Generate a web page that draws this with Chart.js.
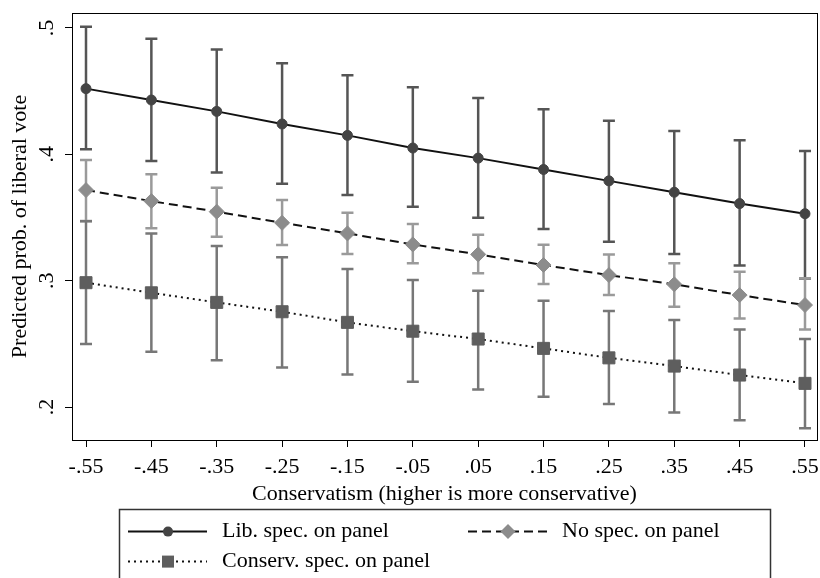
<!DOCTYPE html>
<html>
<head>
<meta charset="utf-8">
<style>
  html, body { margin: 0; padding: 0; background: #fff; }
  #wrap { width: 820px; height: 578px; position: relative; }
  canvas { display: block; }
</style>
<script src="https://cdn.jsdelivr.net/npm/chart.js@4/dist/chart.umd.min.js"></script>
</head>
<body>
<div id="wrap"><canvas id="c" width="820" height="578"></canvas></div>
<script>
// ---- Data ----
const xValues = [-0.55, -0.45, -0.35, -0.25, -0.15, -0.05, 0.05, 0.15, 0.25, 0.35, 0.45, 0.55];
const xTickLabels = ["-.55", "-.45", "-.35", "-.25", "-.15", "-.05", ".05", ".15", ".25", ".35", ".45", ".55"];
const yTickValues = [0.2, 0.3, 0.4, 0.5];
const yTickLabels = [".2", ".3", ".4", ".5"];

const seriesLabels = ["Lib. spec. on panel", "No spec. on panel", "Conserv. spec. on panel"];

const libMean  = [0.452, 0.443, 0.434, 0.424, 0.415, 0.405, 0.397, 0.388, 0.379, 0.370, 0.361, 0.353];
const libUpper = [0.501, 0.4915, 0.483, 0.472, 0.4625, 0.453, 0.4445, 0.4356, 0.4266, 0.4184, 0.4111, 0.4026];
const libLower = [0.404, 0.3947, 0.3857, 0.3767, 0.3678, 0.3585, 0.3498, 0.3409, 0.3308, 0.3211, 0.3121, 0.3018];

const noMean  = [0.3717, 0.363, 0.3546, 0.3458, 0.3374, 0.3287, 0.3208, 0.3124, 0.3044, 0.2971, 0.2886, 0.2807];
const noUpper = [0.3955, 0.3842, 0.3736, 0.3638, 0.3538, 0.3448, 0.3364, 0.3284, 0.3208, 0.3137, 0.3071, 0.302];
const noLower = [0.3472, 0.3414, 0.3348, 0.3282, 0.3211, 0.3137, 0.3058, 0.2973, 0.2886, 0.2793, 0.2701, 0.2614];

const conMean  = [0.2984, 0.2904, 0.2828, 0.2754, 0.267, 0.26, 0.2538, 0.2464, 0.2389, 0.2324, 0.2253, 0.2187];
const conUpper = [0.347, 0.3374, 0.3274, 0.3185, 0.3092, 0.3005, 0.292, 0.2841, 0.2759, 0.2688, 0.2614, 0.2538];
const conLower = [0.2498, 0.2437, 0.2371, 0.2313, 0.2258, 0.22, 0.2139, 0.2081, 0.2023, 0.1957, 0.1896, 0.1831];

const xTitle = "Conservatism (higher is more conservative)";
const yTitle = "Predicted prob. of liberal vote";

// ---- Styling ----
const FONT = '"Liberation Serif", "Times New Roman", serif';
const FS = 22;

const toPts = (m) => xValues.map((x, i) => ({ x: x, y: m[i] }));

const errorSets = [
  { lo: libLower, hi: libUpper, color: '#555555' },
  { lo: noLower,  hi: noUpper,  color: '#9a9a9a' },
  { lo: conLower, hi: conUpper, color: '#777777' }
];

const errorBarPlugin = {
  id: 'errbars',
  beforeDatasetsDraw(chart) {
    const { ctx, scales: { x, y } } = chart;
    ctx.save();
    ctx.lineWidth = 2.5;
    errorSets.forEach(s => {
      ctx.strokeStyle = s.color;
      xValues.forEach((xv, i) => {
        const px = x.getPixelForValue(xv);
        const p1 = y.getPixelForValue(s.lo[i]);
        const p2 = y.getPixelForValue(s.hi[i]);
        ctx.beginPath();
        ctx.moveTo(px, p1); ctx.lineTo(px, p2);
        ctx.moveTo(px - 6, p1); ctx.lineTo(px + 6, p1);
        ctx.moveTo(px - 6, p2); ctx.lineTo(px + 6, p2);
        ctx.stroke();
      });
    });
    ctx.restore();
  }
};

function drawMarker(ctx, style, cx, cy, r, color) {
  ctx.fillStyle = color;
  ctx.beginPath();
  if (style === 'circle') {
    ctx.arc(cx, cy, r, 0, Math.PI * 2);
  } else if (style === 'rectRot') {
    ctx.moveTo(cx, cy - r); ctx.lineTo(cx + r, cy); ctx.lineTo(cx, cy + r); ctx.lineTo(cx - r, cy); ctx.closePath();
  } else {
    const h = Math.SQRT1_2 * r;
    ctx.rect(cx - h, cy - h, 2 * h, 2 * h);
  }
  ctx.fill();
}

const framePlugin = {
  id: 'frame',
  afterDraw(chart) {
    const { ctx, chartArea: a, scales: { y } } = chart;
    ctx.save();
    // plot box
    ctx.strokeStyle = '#000';
    ctx.lineWidth = 1;
    ctx.strokeRect(Math.round(a.left) + 0.5, Math.round(a.top) + 0.5,
                   Math.round(a.right - a.left), Math.round(a.bottom - a.top));
    // rotated y tick labels
    ctx.fillStyle = '#000';
    ctx.font = FS + 'px ' + FONT;
    ctx.textAlign = 'center';
    ctx.textBaseline = 'alphabetic';
    yTickValues.forEach((v, i) => {
      const py = y.getPixelForValue(v);
      ctx.save();
      ctx.translate(a.left - 19, py);
      ctx.rotate(-Math.PI / 2);
      ctx.fillText(yTickLabels[i], 0, 0);
      ctx.restore();
    });
    // legend
    ctx.strokeStyle = '#333';
    ctx.lineWidth = 1.5;
    ctx.strokeRect(119.5, 509.5, 651, 90);
    const ds = chart.data.datasets;
    const slots = [[128, 531.6], [468, 531.6], [128, 561.6]];
    ds.forEach((d, i) => {
      const [lx, ly] = slots[i];
      ctx.save();
      ctx.strokeStyle = d.borderColor;
      ctx.lineWidth = 2;
      ctx.setLineDash(d.borderDash || []);
      ctx.beginPath();
      ctx.moveTo(lx, ly); ctx.lineTo(lx + 79, ly);
      ctx.stroke();
      ctx.restore();
      drawMarker(ctx, d.pointStyle, lx + 40, ly, d.pointRadius, d.pointBackgroundColor);
      ctx.fillStyle = '#000';
      ctx.textAlign = 'left';
      ctx.textBaseline = 'middle';
      ctx.fillText(d.label, lx + 94, ly);
    });
    ctx.restore();
  }
};

new Chart(document.getElementById('c'), {
  type: 'line',
  data: {
    datasets: [
      {
        label: seriesLabels[0], data: toPts(libMean),
        borderColor: '#111111', borderWidth: 2,
        pointStyle: 'circle', pointRadius: 5,
        pointBackgroundColor: '#444444', pointBorderColor: '#444444', pointBorderWidth: 1
      },
      {
        label: seriesLabels[1], data: toPts(noMean),
        borderColor: '#111111', borderWidth: 2, borderDash: [9, 5],
        pointStyle: 'rectRot', pointRadius: 7.5,
        pointBackgroundColor: '#8c8c8c', pointBorderColor: '#8c8c8c', pointBorderWidth: 1
      },
      {
        label: seriesLabels[2], data: toPts(conMean),
        borderColor: '#111111', borderWidth: 2, borderDash: [2, 4],
        pointStyle: 'rect', pointRadius: 8.5,
        pointBackgroundColor: '#5e5e5e', pointBorderColor: '#5e5e5e', pointBorderWidth: 1
      }
    ]
  },
  options: {
    responsive: false,
    animation: false,
    layout: { autoPadding: false, padding: { top: 13, right: 3, left: 0, bottom: 0 } },
    plugins: { legend: { display: false }, tooltip: { enabled: false } },
    scales: {
      x: {
        type: 'linear',
        min: -0.57142, max: 0.56836,
        afterBuildTicks: s => { s.ticks = xValues.map(v => ({ value: v })); },
        afterFit: s => { s.height = 138; s.paddingLeft = 0; s.paddingRight = 0; },
        ticks: {
          callback: (v, i) => xTickLabels[i],
          font: { family: FONT, size: FS }, color: '#000',
          padding: 7, maxRotation: 0, minRotation: 0, autoSkip: false
        },
        grid: { drawOnChartArea: false, drawTicks: true, tickLength: 7, color: '#000', lineWidth: 1 },
        border: { display: true, color: '#000', width: 1 },
        title: {
          display: true, text: xTitle, color: '#000',
          font: { family: FONT, size: FS },
          padding: { top: 0, bottom: 70.8 }
        }
      },
      y: {
        type: 'linear',
        min: 0.17388, max: 0.51187,
        afterBuildTicks: s => { s.ticks = yTickValues.map(v => ({ value: v })); },
        afterFit: s => { s.width = 72; s.paddingTop = 0; s.paddingBottom = 0; },
        ticks: { display: false },
        grid: { drawOnChartArea: false, drawTicks: true, tickLength: 7, color: '#000', lineWidth: 1 },
        border: { display: true, color: '#000', width: 1 },
        title: {
          display: true, text: yTitle, color: '#000',
          font: { family: FONT, size: FS },
          padding: { top: 7.4, bottom: 0 }
        }
      }
    }
  },
  plugins: [errorBarPlugin, framePlugin]
});
</script>
</body>
</html>
